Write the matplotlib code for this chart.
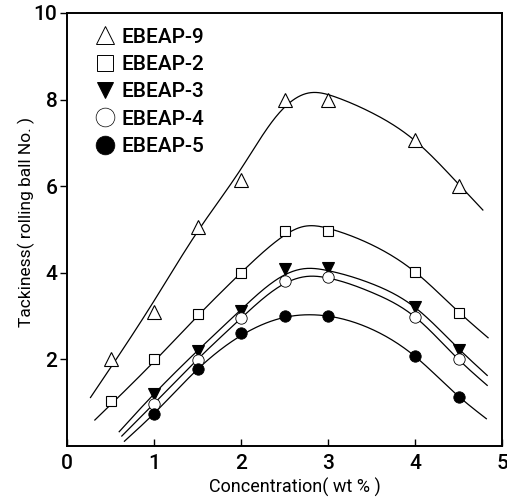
import numpy as np
import matplotlib
matplotlib.use("Agg")
import matplotlib.pyplot as plt
from matplotlib.lines import Line2D

plt.rcParams['font.family'] = ['Roboto', 'DejaVu Sans']
plt.rcParams['font.weight'] = 'medium'

# measured points
conc_a = [0.5, 1.0, 1.5, 2.0, 2.5, 3.0, 4.0, 4.5]
conc_b = [1.0, 1.5, 2.0, 2.5, 3.0, 4.0, 4.5]
ebeap9 = [2.0, 3.1, 5.05, 6.15, 8.0, 8.0, 7.07, 6.0]
ebeap2 = [1.05, 2.0, 3.05, 4.0, 4.97, 4.97, 4.03, 3.08]
ebeap3 = [1.2, 2.2, 3.12, 4.08, 4.1, 3.2, 2.22]
ebeap4 = [0.97, 1.98, 2.95, 3.82, 3.9, 2.98, 2.0]
ebeap5 = [0.75, 1.77, 2.6, 3.0, 3.0, 2.07, 1.13]

# fitted curves (knots)
fit9_x = [0.27, 1.0, 1.5, 2.0, 2.4, 2.77, 3.1, 3.5, 4.0, 4.5, 4.78]
fit9_y = [1.12, 3.35, 4.95, 6.4, 7.6, 8.15, 8.05, 7.7, 7.05, 6.05, 5.45]
fit2_x = [0.32, 1.0, 1.5, 2.0, 2.4, 2.72, 3.05, 3.5, 4.0, 4.5, 4.84]
fit2_y = [0.6, 1.95, 3.0, 4.0, 4.72, 5.07, 5.0, 4.65, 4.02, 3.1, 2.5]
fit3_x = [0.6, 1.0, 1.5, 2.0, 2.5, 2.75, 3.0, 3.5, 4.0, 4.5, 4.83]
fit3_y = [0.33, 1.2, 2.2, 3.15, 3.95, 4.1, 4.05, 3.75, 3.2, 2.25, 1.63]
fit4_x = [0.63, 1.0, 1.5, 2.0, 2.5, 2.78, 3.0, 3.5, 4.0, 4.5, 4.83]
fit4_y = [0.23, 0.98, 2.0, 2.95, 3.75, 3.92, 3.88, 3.55, 2.98, 2.0, 1.4]
fit5_x = [0.66, 1.0, 1.5, 2.0, 2.5, 2.75, 3.0, 3.5, 4.0, 4.5, 4.82]
fit5_y = [0.11, 0.75, 1.77, 2.55, 2.97, 3.03, 3.0, 2.7, 2.07, 1.15, 0.63]

labels = ['EBEAP-9', 'EBEAP-2', 'EBEAP-3', 'EBEAP-4', 'EBEAP-5']


def natural_spline(xk, yk, n=300):
    xk = np.asarray(xk, float)
    yk = np.asarray(yk, float)
    m = len(xk)
    h = np.diff(xk)
    A = np.zeros((m, m))
    r = np.zeros(m)
    A[0, 0] = 1
    A[-1, -1] = 1
    for i in range(1, m - 1):
        A[i, i - 1] = h[i - 1]
        A[i, i] = 2 * (h[i - 1] + h[i])
        A[i, i + 1] = h[i]
        r[i] = 6 * ((yk[i + 1] - yk[i]) / h[i] - (yk[i] - yk[i - 1]) / h[i - 1])
    M = np.linalg.solve(A, r)
    xs = np.linspace(xk[0], xk[-1], n)
    idx = np.clip(np.searchsorted(xk, xs) - 1, 0, m - 2)
    x0, x1 = xk[idx], xk[idx + 1]
    hh = x1 - x0
    a = (x1 - xs) / hh
    b = (xs - x0) / hh
    ys = (a * yk[idx] + b * yk[idx + 1]
          + ((a ** 3 - a) * M[idx] + (b ** 3 - b) * M[idx + 1]) * hh ** 2 / 6)
    return xs, ys


W, H = 507, 501
fig = plt.figure(figsize=(W / 100, H / 100), dpi=100)
ax = fig.add_axes([67 / W, 1 - 446 / H, (502 - 67) / W, (446 - 13) / H])

lw = 0.9
for fx, fy in [(fit9_x, fit9_y), (fit2_x, fit2_y), (fit3_x, fit3_y),
               (fit4_x, fit4_y), (fit5_x, fit5_y)]:
    xs, ys = natural_spline(fx, fy)
    ax.plot(xs, ys, color='black', lw=lw, zorder=2)

ax.plot(conc_a, ebeap9, ls='none', marker='^', ms=9.5, mfc='white', mec='black', mew=0.8, zorder=3)
ax.plot(conc_a, ebeap2, ls='none', marker='s', ms=7.8, mfc='white', mec='black', mew=0.8, zorder=3)
ax.plot(conc_b, ebeap3, ls='none', marker='v', ms=8.5, mfc='black', mec='black', mew=0.8, zorder=3)
ax.plot(conc_b, ebeap4, ls='none', marker='o', ms=8.2, mfc='white', mec='black', mew=0.6, zorder=3)
ax.plot(conc_b, ebeap5, ls='none', marker='o', ms=8.2, mfc='black', mec='black', mew=0.6, zorder=3)

handles = [
    Line2D([], [], ls='none', marker='^', ms=13, mfc='white', mec='black', mew=0.7),
    Line2D([], [], ls='none', marker='s', ms=12, mfc='white', mec='black', mew=0.7),
    Line2D([], [], ls='none', marker='v', ms=12, mfc='black', mec='black', mew=0.7),
    Line2D([], [], ls='none', marker='o', ms=13.5, mfc='white', mec='black', mew=0.5),
    Line2D([], [], ls='none', marker='o', ms=13.5, mfc='black', mec='black', mew=0.5),
]
leg = ax.legend(handles, labels, loc='upper left', bbox_to_anchor=(0.03, 1.0),
                frameon=False, fontsize=15, handlelength=1.0, handletextpad=0.3,
                labelspacing=0.4, borderpad=0.2)

ax.set_xlim(0, 5)
ax.set_ylim(0, 10)
ax.set_xticks([0, 1, 2, 3, 4, 5])
ax.set_yticks([2, 4, 6, 8, 10])
ax.tick_params(axis='x', direction='in', length=5, width=1, labelsize=15, pad=6)
ax.tick_params(axis='y', direction='out', length=5, width=1, labelsize=15, pad=2)
for s in ax.spines.values():
    s.set_linewidth(1.4)

ax.set_xlabel('Concentration( wt % )', fontsize=13)
ax.set_ylabel('Tackiness( rolling ball No. )', fontsize=12.5)
ax.xaxis.set_label_coords((295 - 67) / 435, (446 - 478) / 433)
ax.yaxis.set_label_coords((35 - 67) / 435, (446 - 222) / 433)

fig.savefig('out.png', dpi=100)
